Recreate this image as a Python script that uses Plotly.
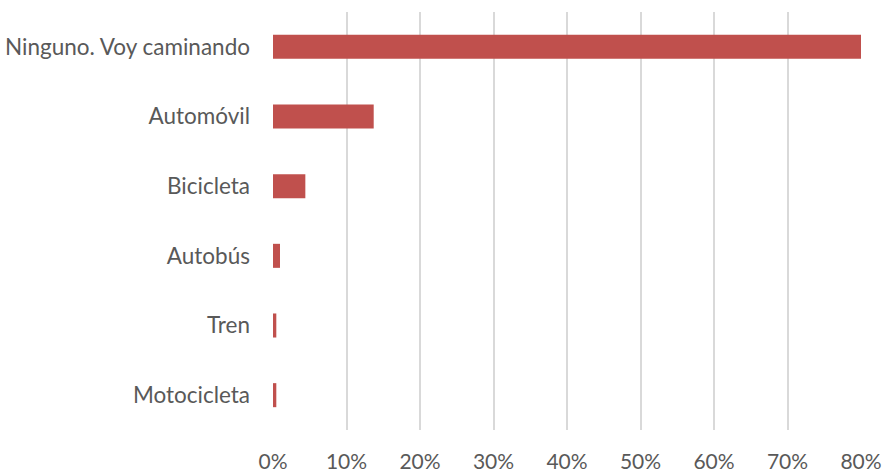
import plotly.graph_objects as go

# Medio de transporte utilizado (porcentaje de respuestas)
categorias = ["Ninguno. Voy caminando", "Automóvil", "Bicicleta", "Autobús", "Tren", "Motocicleta"]
porcentajes = [80.0, 13.7, 4.4, 0.95, 0.45, 0.45]
ticks_x = [0, 10, 20, 30, 40, 50, 60, 70, 80]
ticks_x_texto = [f"{v}%" for v in ticks_x]

color_barra = "#C0504D"
color_texto = "#595959"
color_rejilla = "#D9D9D9"
fuente = "Lato"

fig = go.Figure(
    go.Bar(
        x=porcentajes,
        y=categorias,
        orientation="h",
        marker=dict(color=color_barra, line=dict(width=0)),
        width=0.345,
    )
)

fig.update_layout(
    width=885,
    height=473,
    margin=dict(l=273, r=24, t=12, b=43),
    paper_bgcolor="white",
    plot_bgcolor="white",
    showlegend=False,
    font=dict(family=fuente, size=22, color=color_texto),
)

fig.update_xaxes(
    range=[0, 80],
    tickvals=ticks_x,
    ticktext=ticks_x_texto,
    showgrid=True,
    gridcolor=color_rejilla,
    gridwidth=1.5,
    zeroline=False,
    showline=False,
    ticks="",
    automargin=False,
    ticklabelstandoff=17,
    tickfont=dict(family=fuente, size=21, color=color_texto),
)

fig.update_yaxes(
    categoryorder="array",
    categoryarray=categorias[::-1],
    showgrid=False,
    zeroline=False,
    showline=False,
    ticks="",
    automargin=False,
    ticklabelstandoff=22,
    tickfont=dict(family=fuente, size=22.5, color=color_texto),
)

fig.write_html("out.html")
